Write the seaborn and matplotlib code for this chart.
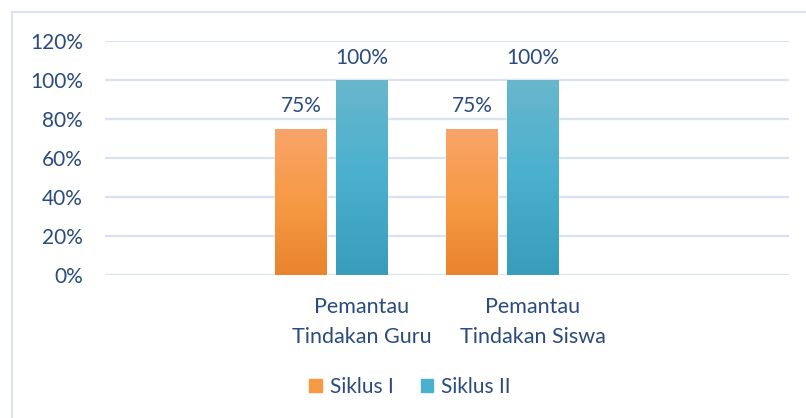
import numpy as np
import pandas as pd
import matplotlib
matplotlib.use("Agg")
import matplotlib.pyplot as plt
import matplotlib.patches as mpatches
from matplotlib.colors import LinearSegmentedColormap
import seaborn as sns

sns.set_theme(style="white")
plt.rcParams["font.family"] = ["Lato", "DejaVu Sans"]

# data
categories = ["Pemantau\nTindakan Guru", "Pemantau\nTindakan Siswa"]
series = ["Siklus I", "Siklus II"]
siklus_1 = [0.75, 0.75]
siklus_2 = [1.00, 1.00]
yticks = [0, 0.2, 0.4, 0.6, 0.8, 1.0, 1.2]

df = pd.DataFrame({
    "kategori": categories * 2,
    "siklus": [series[0]] * 2 + [series[1]] * 2,
    "nilai": siklus_1 + siklus_2,
})
# the original chart keeps a third, empty series slot, so bars sit left of the tick
hue_order = series + ["(kosong)"]

TXT = "#2B4B7E"
GRID = "#D9E2F1"
grad = {
    "Siklus I": ("#F9A46A", "#F79A45", "#E8842D"),
    "Siklus II": ("#68B7CC", "#4AB0CE", "#379DBB"),
}
FS = 15

fig = plt.figure(figsize=(8.06, 4.18), dpi=100)
ax = fig.add_axes([105 / 806, 1 - 275 / 418, 684 / 806, 234 / 418])

sns.barplot(data=df, x="kategori", y="nilai", hue="siklus", hue_order=hue_order,
            ax=ax, palette=[grad[s][1] for s in series] + ["white"],
            width=1.053, gap=0.134, legend=False, saturation=1)

ax.set_yticks(yticks)
ax.set_yticklabels([f"{int(round(v * 100))}%" for v in yticks])
ax.yaxis.grid(True, color=GRID, linewidth=1.6)
ax.set_axisbelow(True)
for s in ax.spines.values():
    s.set_visible(False)
ax.tick_params(axis="both", length=0, colors=TXT, labelsize=FS)
ax.tick_params(axis="y", pad=16)
ax.tick_params(axis="x", pad=16)
ax.set_xlabel("")
ax.set_ylabel("")
for lbl in ax.get_xticklabels():
    lbl.set_linespacing(1.6)
    lbl.set_fontsize(FS + 0.5)

# gradient fill on bars + value labels
for cont, name in zip(ax.containers, series):
    cmap = LinearSegmentedColormap.from_list(name, list(grad[name])[::-1])
    for bar in cont:
        x0, y0 = bar.get_x(), bar.get_y()
        w, h = bar.get_width(), bar.get_height()
        img = ax.imshow(np.linspace(0, 1, 100).reshape(-1, 1), cmap=cmap,
                        extent=[x0, x0 + w, y0, y0 + h], origin="lower",
                        aspect="auto", zorder=bar.get_zorder())
        img.set_clip_path(bar)
        bar.set_facecolor("none")
    ax.bar_label(cont, labels=[f"{int(round(v * 100))}%" for v in cont.datavalues],
                 padding=9, color=TXT, fontsize=FS)
ax.set_xlim(-1.5, 2.5)
ax.set_ylim(0, 1.2)

# legend
handles = [mpatches.Patch(color=grad[s][1], label=s) for s in series]
fig.legend(handles=handles, loc="center", bbox_to_anchor=(410 / 806, 1 - 387 / 418),
           ncol=2, frameon=False, fontsize=FS, labelcolor=TXT,
           handlelength=0.6, handleheight=0.6, handletextpad=0.4,
           columnspacing=1.3)

# chart area border
fig.patches.append(mpatches.Rectangle((12 / 806, -0.1), 1.0, 1 - 12 / 418 + 0.1,
                                      transform=fig.transFigure, fill=False,
                                      edgecolor=GRID, linewidth=1.5))

fig.savefig("out.png", dpi=100)
